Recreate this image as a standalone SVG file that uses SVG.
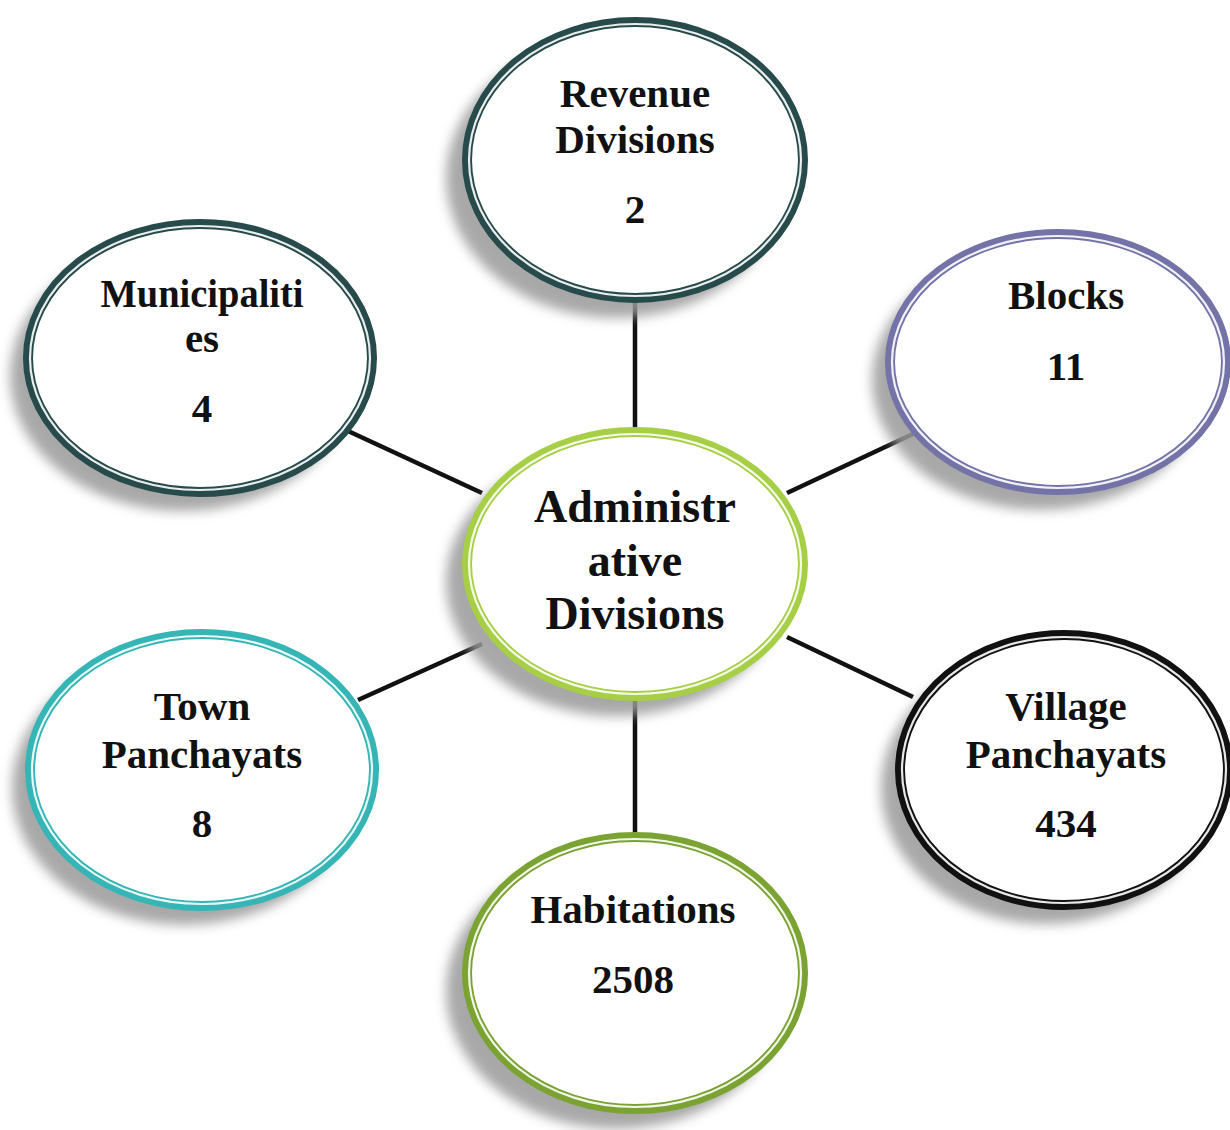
<svg xmlns="http://www.w3.org/2000/svg" width="1230" height="1130" viewBox="0 0 1230 1130">
<defs>
<filter id="sh" x="-20%" y="-20%" width="140%" height="140%">
<feGaussianBlur stdDeviation="6"/>
</filter>
<style>
.shadow{fill:#9a9a9a;filter:url(#sh);opacity:0.85}
.ring{fill:#ffffff;stroke-width:10}
.gap{fill:none;stroke:#ffffff;stroke-width:2.2;opacity:0.9}
.t{font-family:"Liberation Serif","Times New Roman",serif;font-weight:bold;font-size:41px;fill:#111;text-anchor:middle}
.tc{font-size:46px}
.conn line{stroke:#111;stroke-width:4.5}
</style>
</defs>
<rect width="1230" height="1130" fill="#ffffff"/>
<g class="conn" id="connectors">
<line x1="635" y1="300" x2="635" y2="430"/>
<line x1="635" y1="697" x2="635" y2="836"/>
<line x1="348" y1="431" x2="482" y2="493"/>
<line x1="915" y1="433" x2="787" y2="493"/>
<line x1="358" y1="700" x2="482" y2="644"/>
<line x1="913" y1="697" x2="787" y2="637"/>
</g>
<g id="revenue">
<ellipse class="shadow" cx="616" cy="178" rx="170" ry="140"/>
<ellipse class="ring" cx="635" cy="160" rx="168" ry="138" stroke="#274a4a"/>
<ellipse class="gap" cx="635" cy="160" rx="166" ry="136"/>
<text class="t" x="635" y="107">Revenue</text>
<text class="t" x="635" y="153">Divisions</text>
<text class="t" x="635" y="223">2</text>
</g>
<g id="municipalities">
<ellipse class="shadow" cx="182" cy="376" rx="172" ry="135"/>
<ellipse class="ring" cx="200" cy="358" rx="172" ry="134" stroke="#274a4a"/>
<ellipse class="gap" cx="200" cy="358" rx="170" ry="132"/>
<text class="t" x="202" y="307" textLength="203" lengthAdjust="spacingAndGlyphs">Municipaliti</text>
<text class="t" x="202" y="352">es</text>
<text class="t" x="202" y="422">4</text>
</g>
<g id="blocks">
<ellipse class="shadow" cx="1040" cy="380" rx="168" ry="130"/>
<ellipse class="ring" cx="1058" cy="362" rx="168" ry="128" stroke="#7373a8"/>
<ellipse class="gap" cx="1058" cy="362" rx="166" ry="126"/>
<text class="t" x="1066" y="309">Blocks</text>
<text class="t" x="1066" y="380">11</text>
</g>
<g id="admin">
<ellipse class="shadow" cx="616" cy="582" rx="170" ry="134"/>
<ellipse class="ring" cx="635" cy="564" rx="168" ry="132" stroke="#a6cf45"/>
<ellipse class="gap" cx="635" cy="564" rx="166" ry="130"/>
<text class="t tc" x="635" y="522">Administr</text>
<text class="t tc" x="635" y="576">ative</text>
<text class="t tc" x="635" y="629">Divisions</text>
</g>
<g id="town">
<ellipse class="shadow" cx="184" cy="788" rx="172" ry="137"/>
<ellipse class="ring" cx="202" cy="770" rx="172" ry="136" stroke="#35b5b5"/>
<ellipse class="gap" cx="202" cy="770" rx="170" ry="134"/>
<text class="t" x="202" y="720">Town</text>
<text class="t" x="202" y="768">Panchayats</text>
<text class="t" x="202" y="837">8</text>
</g>
<g id="village">
<ellipse class="shadow" cx="1046" cy="788" rx="165" ry="136"/>
<ellipse class="ring" cx="1064" cy="770" rx="164" ry="135" stroke="#111111"/>
<ellipse class="gap" cx="1064" cy="770" rx="162" ry="133"/>
<text class="t" x="1066" y="720">Village</text>
<text class="t" x="1066" y="768">Panchayats</text>
<text class="t" x="1066" y="837">434</text>
</g>
<g id="habitations">
<ellipse class="shadow" cx="616" cy="991" rx="170" ry="138"/>
<ellipse class="ring" cx="635" cy="973" rx="168" ry="136" stroke="#7aa332"/>
<ellipse class="gap" cx="635" cy="973" rx="166" ry="134"/>
<text class="t" x="633" y="923">Habitations</text>
<text class="t" x="633" y="993">2508</text>
</g>
</svg>
